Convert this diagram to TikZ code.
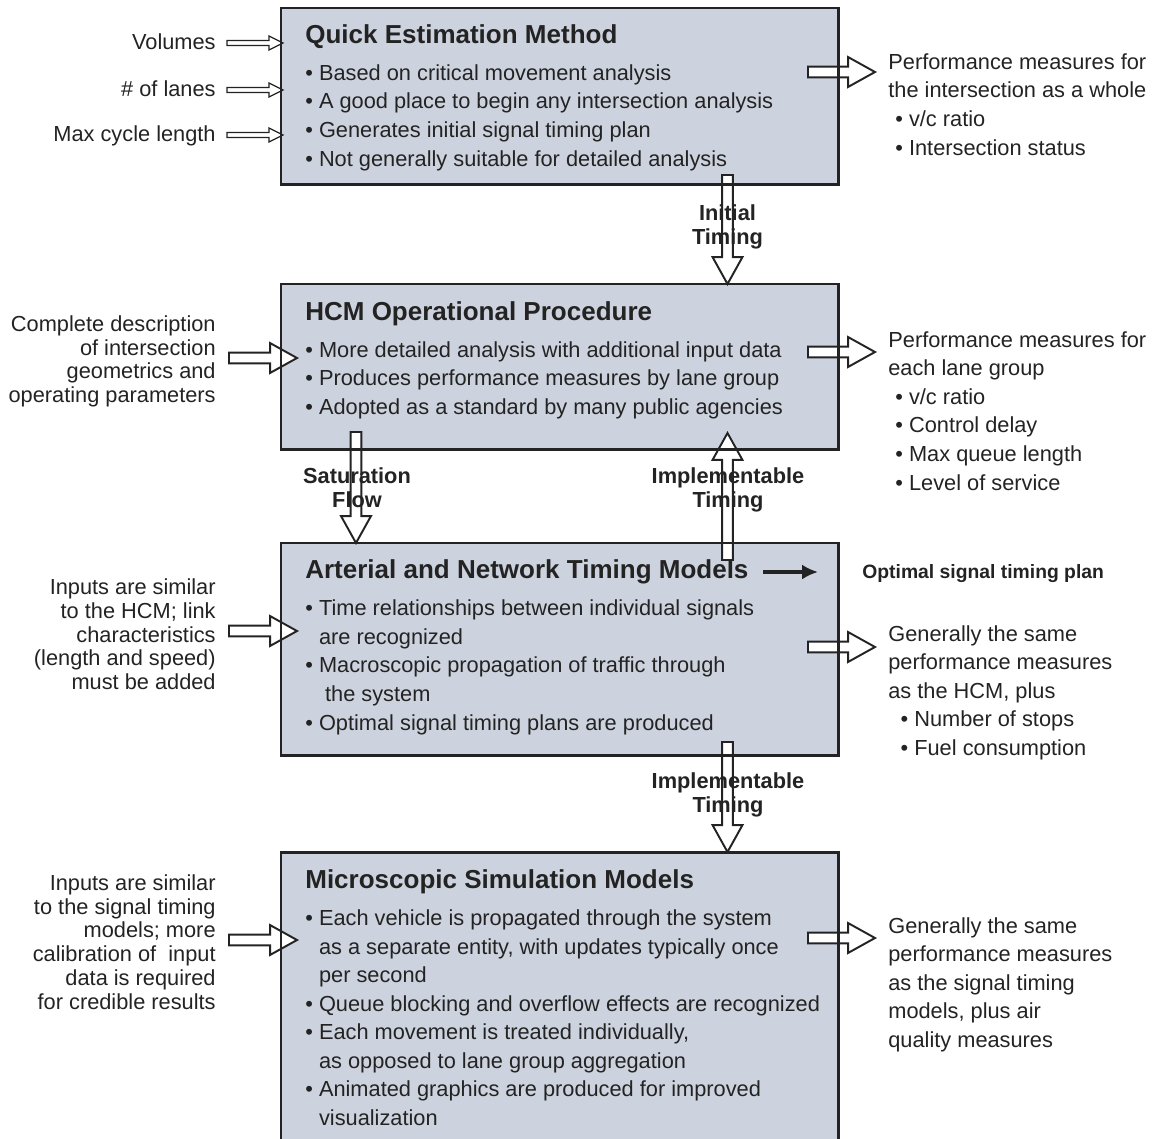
\documentclass[tikz,border=0pt]{standalone}
\usepackage{fontspec}
\setmainfont{Liberation Sans}
\usepackage{tikz}
\usetikzlibrary{calc,arrows.meta}

\definecolor{boxgray}{RGB}{205,211,222}
\definecolor{inkgray}{RGB}{35,35,35}

\newcommand{\bodysize}{\fontsize{12.4}{16.27}\selectfont}
\newcommand{\sidesize}{\fontsize{12.4}{13.5}\selectfont}
\newcommand{\boxhead}[1]{{\fontsize{14.8}{16.27}\selectfont\bfseries #1}}
\newcommand{\itm}{\textbullet\ }
\newcommand{\cont}{\hphantom{\textbullet\ }}
\newcommand{\subitm}{\hspace*{4pt}\textbullet\ }

\def\shaftw{3.1pt}\def\headw{8.5pt}\def\headl{15.3pt}

\tikzset{
  procbox/.style={fill=boxgray, anchor=north west, inner sep=0pt, minimum width=11.14cm},
  boxline/.style={draw=inkgray, line width=1.7pt},
  boxtext/.style={anchor=base west, align=left, inner sep=0pt, font=\bodysize, text=inkgray},
  intext/.style={anchor=base east, align=right, inner sep=0pt, font=\sidesize, text=inkgray},
  outtext/.style={anchor=base west, align=left, inner sep=0pt, font=\bodysize, text=inkgray},
  flowlabel/.style={anchor=base, align=center, inner sep=0pt, font=\sidesize\bfseries, text=inkgray},
  bigarrow/.style={draw=inkgray, fill=white, line width=1.1pt, line join=miter,
    to path={-- ($(\tikztostart)!\shaftw!90:(\tikztotarget)$)
      -- ($(\tikztotarget)!\headl!(\tikztostart)!\shaftw!-90:(\tikztostart)$)
      -- ($(\tikztotarget)!\headl!(\tikztostart)!\headw!-90:(\tikztostart)$)
      -- (\tikztotarget)
      -- ($(\tikztotarget)!\headl!(\tikztostart)!\headw!90:(\tikztostart)$)
      -- ($(\tikztotarget)!\headl!(\tikztostart)!\shaftw!90:(\tikztostart)$)
      -- ($(\tikztostart)!\shaftw!-90:(\tikztotarget)$) -- cycle}},
  smallarrow/.style={bigarrow, line width=0.7pt,
    /utils/exec={\def\shaftw{1.4pt}\def\headw{4pt}\def\headl{8pt}}}
}

\begin{document}
\begin{tikzpicture}[x=0.02cm, y=-0.02cm]
    \clip (0,0) rectangle (1153,1139);
    \node[procbox, minimum height=3.52cm] (qem) at (281,8) {};
    \node[procbox, minimum height=3.3cm] (hcm) at (281,284) {};
    \node[procbox, minimum height=4.24cm] (atm) at (281,543) {};
    \node[procbox, minimum height=6.2cm] (msm) at (281,852) {};

    \coordinate (volin) at (227,43);   \coordinate (volend) at (283,43);
    \coordinate (lanein) at (227,90);  \coordinate (laneend) at (283,90);
    \coordinate (cycin) at (227,135);  \coordinate (cycend) at (283,135);
    \coordinate (hcmin) at (229,358);  \coordinate (hcmend) at (297,358);
    \coordinate (atmin) at (229,631);  \coordinate (atmend) at (297,631);
    \coordinate (msmin) at (229,940);  \coordinate (msmend) at (297,940);
    \coordinate (qemout) at (808,72);  \coordinate (qemres) at (875,72);
    \coordinate (hcmout) at (808,352); \coordinate (hcmres) at (875,352);
    \coordinate (atmout) at (808,647); \coordinate (atmres) at (875,647);
    \coordinate (msmout) at (808,938); \coordinate (msmres) at (875,938);
    \coordinate (inittop) at (727.5,175);  \coordinate (inittip) at (727.5,284);
    \coordinate (sattop) at (356,432);     \coordinate (sattip) at (356,543);
    \coordinate (impbot) at (727.5,560);   \coordinate (imptip) at (727.5,433);
    \coordinate (implow) at (727.5,742);   \coordinate (implowtip) at (727.5,852);
    \coordinate (optstart) at (763,572);   \coordinate (optend) at (818,572);

    \draw[smallarrow] (volin) to (volend);
    \draw[smallarrow] (lanein) to (laneend);
    \draw[smallarrow] (cycin) to (cycend);
    \foreach \a/\b in {hcmin/hcmend, atmin/atmend, msmin/msmend, qemout/qemres, hcmout/hcmres, atmout/atmres, msmout/msmres, inittop/inittip, sattop/sattip, impbot/imptip, implow/implowtip}
        \draw[bigarrow] (\a) to (\b);

    \foreach \b in {qem, hcm, atm, msm}
        \draw[boxline] (\b.north west) rectangle (\b.south east);

    \draw[inkgray, line width=2.1pt, -{Latex[length=9pt, width=8.5pt]}] (optstart) -- (optend);

    \node[boxtext] (qemtext) at (305,166) {\boxhead{Quick Estimation Method}\\[4.7pt]
        \itm Based on critical movement analysis\\
        \itm A good place to begin any intersection analysis\\
        \itm Generates initial signal timing plan\\
        \itm Not generally suitable for detailed analysis};
    \node[boxtext] (hcmtext) at (305,414.5) {\boxhead{HCM Operational Procedure}\\[4.7pt]
        \itm More detailed analysis with additional input data\\
        \itm Produces performance measures by lane group\\
        \itm Adopted as a standard by many public agencies};
    \node[boxtext] (atmtext) at (305,730) {\boxhead{Arterial and Network Timing Models}\\[4.7pt]
        \itm Time relationships between individual signals\\
        \cont are recognized\\
        \itm Macroscopic propagation of traffic through\\
        \cont\ the system\\
        \itm Optimal signal timing plans are produced};
    \node[boxtext] (msmtext) at (305,1125.5) {\boxhead{Microscopic Simulation Models}\\[4.7pt]
        \itm Each vehicle is propagated through the system\\
        \cont as a separate entity, with updates typically once\\
        \cont per second\\
        \itm Queue blocking and overflow effects are recognized\\
        \itm Each movement is treated individually,\\
        \cont as opposed to lane group aggregation\\
        \itm Animated graphics are produced for improved\\
        \cont visualization};

    \node[intext] (vol) at (216,50) {Volumes};
    \node[intext] (lanes) at (216,96) {\# of lanes};
    \node[intext] (cyc) at (216,141) {Max cycle length};
    \node[intext] (hcmdata) at (216,402.5) {Complete description\\of intersection\\geometrics and\\operating parameters};
    \node[intext] (atmdata) at (216,689.5) {Inputs are similar\\to the HCM; link\\characteristics\\(length and speed)\\must be added};
    \node[intext] (msmdata) at (216,1009) {Inputs are similar\\to the signal timing\\models; more\\calibration of~ input\\data is required\\for credible results};

    \node[outtext] (qemperf) at (888,155) {Performance measures for\\the intersection as a whole\\
        \subitm v/c ratio\\\subitm Intersection status};
    \node[outtext] (hcmperf) at (888,490) {Performance measures for\\each lane group\\
        \subitm v/c ratio\\\subitm Control delay\\\subitm Max queue length\\\subitm Level of service};
    \node[outtext] (atmperf) at (888,755.5) {Generally the same\\performance measures\\as the HCM, plus\\
        \hspace*{7pt}\itm Number of stops\\\hspace*{7pt}\itm Fuel consumption};
    \node[outtext] (msmperf) at (888,1047.5) {Generally the same\\performance measures\\as the signal timing\\models, plus air\\quality measures};

    \node[anchor=base west, inner sep=0pt, font=\fontsize{11}{13}\selectfont\bfseries, text=inkgray] (optplan) at (862,578) {Optimal signal timing plan};

    \node[flowlabel] (initlab) at (727.5,244) {Initial\\Timing};
    \node[flowlabel] (satlab) at (357,507) {Saturation\\Flow};
    \node[flowlabel] (implab) at (728,507) {Implementable\\Timing};
    \node[flowlabel] (implowlab) at (728,812) {Implementable\\Timing};
\end{tikzpicture}
\end{document}
